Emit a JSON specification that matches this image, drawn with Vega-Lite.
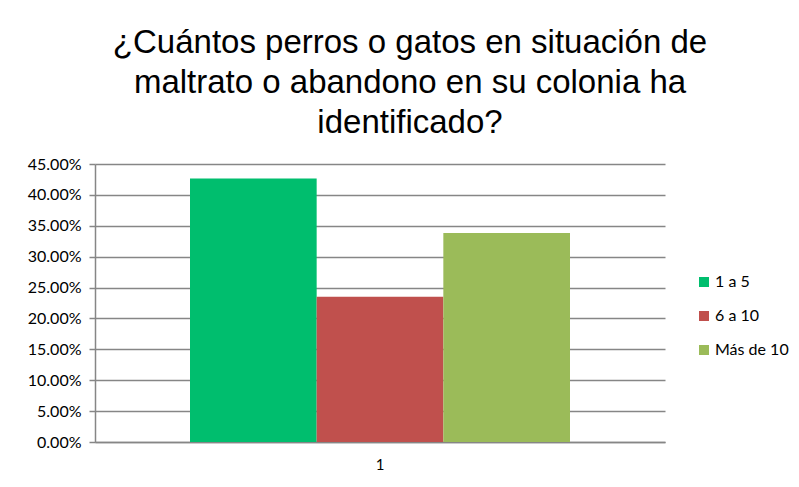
{
  "$schema": "https://vega.github.io/schema/vega-lite/v6.json",
  "width": 570,
  "height": 278,
  "autosize": "none",
  "padding": {"left": 95, "top": 164, "right": 134, "bottom": 45},
  "background": "white",
  "title": {
    "text": ["¿Cuántos perros o gatos en situación de", "maltrato o abandono en su colonia ha", "identificado?"],
    "font": "Liberation Sans",
    "fontSize": 33,
    "fontWeight": "normal",
    "color": "black",
    "lineHeight": 40,
    "anchor": "middle",
    "dx": 30,
    "offset": 16
  },
  "data": {
    "values": [
      {"cat": "1", "serie": "1 a 5", "value": 0.4267},
      {"cat": "1", "serie": "6 a 10", "value": 0.2350},
      {"cat": "1", "serie": "Más de 10", "value": 0.3383}
    ]
  },
  "mark": {"type": "bar"},
  "encoding": {
    "x": {
      "field": "cat",
      "type": "nominal",
      "scale": {"paddingInner": 0, "paddingOuter": 0.25},
      "axis": {
        "title": null,
        "labelAngle": 0,
        "labelFont": "Lato",
        "labelFontSize": 15,
        "labelColor": "black",
        "labelPadding": 15,
        "ticks": false,
        "domainColor": "#868686",
        "domainWidth": 1.5
      }
    },
    "xOffset": {
      "field": "serie",
      "type": "nominal",
      "scale": {"paddingInner": 0, "paddingOuter": 0}
    },
    "y": {
      "field": "value",
      "type": "quantitative",
      "scale": {"domain": [0, 0.45], "nice": false},
      "axis": {
        "title": null,
        "values": [0, 0.05, 0.1, 0.15, 0.2, 0.25, 0.3, 0.35, 0.4, 0.45],
        "format": ".2%",
        "labelFont": "Lato",
        "labelFontSize": 16,
        "labelColor": "black",
        "labelPadding": 8,
        "tickSize": 6,
        "tickColor": "#868686",
        "tickWidth": 1.5,
        "domainColor": "#868686",
        "domainWidth": 1.5,
        "gridColor": "#868686",
        "gridWidth": 1.5
      }
    },
    "color": {
      "field": "serie",
      "type": "nominal",
      "scale": {"domain": ["1 a 5", "6 a 10", "Más de 10"], "range": ["#00BE6E", "#C0504D", "#9BBB59"]},
      "legend": {
        "title": null,
        "orient": "none",
        "legendX": 601,
        "legendY": 110,
        "symbolType": "square",
        "symbolSize": 100,
        "symbolStrokeWidth": 0,
        "labelFont": "Lato",
        "labelFontSize": 16,
        "labelColor": "black",
        "labelOffset": 3,
        "rowPadding": 18
      }
    }
  },
  "config": {"view": {"stroke": null}}
}
